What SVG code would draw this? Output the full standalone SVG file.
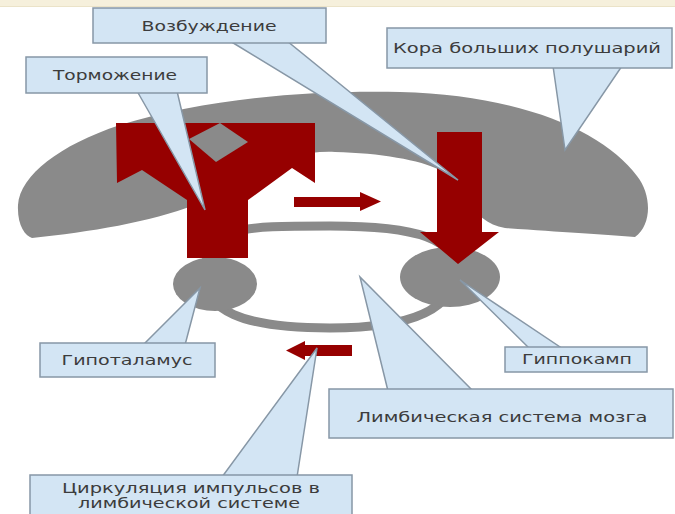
<svg xmlns="http://www.w3.org/2000/svg" width="675" height="514" viewBox="0 0 675 514">
  <style>
    .brain { fill: #8a8a8a; }
    .ring { fill: none; stroke: #8a8a8a; stroke-width: 9; }
    .red { fill: #960000; }
    .call { fill: #d3e5f4; stroke: #8797a6; stroke-width: 1.5; stroke-linejoin: miter; }
    .lbl { font-family: "DejaVu Sans", "Liberation Sans", sans-serif; font-size: 14px; fill: #3c3c3c; text-anchor: middle; dominant-baseline: central; }
  </style>

  <!-- page background and top rule -->
  <rect x="0" y="0" width="675" height="514" fill="#ffffff"/>
  <rect x="0" y="0" width="675" height="6" fill="#f6f0dc"/>
  <line x1="0" y1="6.5" x2="675" y2="6.5" stroke="#ebe3c8" stroke-width="1"/>

  <!-- cerebral cortex: grey crescent -->
  <g id="cortex">
    <path class="brain" d="M 32,238 C 90,232 150,222 195,205 C 240,170 290,150 335,152 C 380,153 420,160 440,170 C 462,185 470,222 505,228 C 560,232 600,234 635,237 C 652,225 652,195 637,176 C 605,132 522,95 400,92 C 300,90 200,100 120,125 C 60,145 20,175 18,205 C 17,225 25,236 32,238 Z"/>
  </g>

  <!-- limbic loop with its two nuclei -->
  <g id="limbic-ring">
    <path class="ring" d="M 205,275 C 205,226 240,226 330,226 C 420,226 455,240 455,270 C 455,305 420,328 330,328 C 240,328 205,310 205,275 Z"/>
  </g>
  <g id="hypothalamus">
    <ellipse class="brain" cx="215" cy="284" rx="42" ry="27"/>
  </g>
  <g id="hippocampus">
    <ellipse class="brain" cx="450" cy="277" rx="50" ry="30"/>
  </g>

  <!-- impulse arrows -->
  <g id="connectors">
    <!-- branching arrow (inhibition) -->
    <polygon class="red" points="116,123 315,123 315,183 292,168 248,200 248,258 187,258 187,200 142,170 117,183"/>
    <polygon class="brain" points="189,139 220,123 248,142 216,162"/>
    <!-- excitation arrow into the hippocampus -->
    <polygon class="red" points="437,132 482,132 482,232 499,232 458,264 420,232 437,232"/>
    <!-- circulation arrows -->
    <polygon class="red" points="294,197 360,197 360,192 381,201.5 360,211 360,207 294,207"/>
    <polygon class="red" points="352,345 305,345 305,341 286,350.5 305,360 305,356 352,356"/>
  </g>

  <!-- callouts -->
  <g id="callout-inhibition">
    <polygon class="call" points="137,91 205,210 177,91"/>
    <rect class="call" x="26" y="57" width="181" height="36"/>
    <text class="lbl" x="115" y="75" textLength="124" lengthAdjust="spacingAndGlyphs">Торможение</text>
  </g>
  <g id="callout-excitation">
    <polygon class="call" points="230,41 458,180 287,41"/>
    <rect class="call" x="93" y="8" width="233" height="35"/>
    <text class="lbl" x="209" y="26" textLength="135" lengthAdjust="spacingAndGlyphs">Возбуждение</text>
  </g>
  <g id="callout-cortex">
    <polygon class="call" points="553,66 565,150 622,66"/>
    <rect class="call" x="387" y="28" width="285" height="40"/>
    <text class="lbl" x="527" y="48" font-size="16" textLength="268" lengthAdjust="spacingAndGlyphs">Кора больших полушарий</text>
  </g>
  <g id="callout-hypothalamus">
    <polygon class="call" points="143,345 200,288 185,345"/>
    <rect class="call" x="40" y="343" width="175" height="34"/>
    <text class="lbl" x="127" y="360" textLength="131" lengthAdjust="spacingAndGlyphs">Гипоталамус</text>
  </g>
  <g id="callout-hippocampus">
    <polygon class="call" points="530,349 460,280 563,349"/>
    <rect class="call" x="505" y="347" width="142" height="25"/>
    <text class="lbl" x="577" y="359" textLength="110" lengthAdjust="spacingAndGlyphs">Гиппокамп</text>
  </g>
  <g id="callout-limbic">
    <polygon class="call" points="388,391 360,277 473,391"/>
    <rect class="call" x="329" y="389" width="344" height="49"/>
    <text class="lbl" x="502" y="417" textLength="291" lengthAdjust="spacingAndGlyphs">Лимбическая система мозга</text>
  </g>
  <g id="callout-circulation">
    <polygon class="call" points="222,477 317,348 297,477"/>
    <rect class="call" x="30" y="475" width="322" height="45"/>
    <text class="lbl" x="191" y="488" textLength="258" lengthAdjust="spacingAndGlyphs">Циркуляция импульсов в</text>
    <text class="lbl" x="189" y="503" textLength="222" lengthAdjust="spacingAndGlyphs">лимбической системе</text>
  </g>
</svg>
